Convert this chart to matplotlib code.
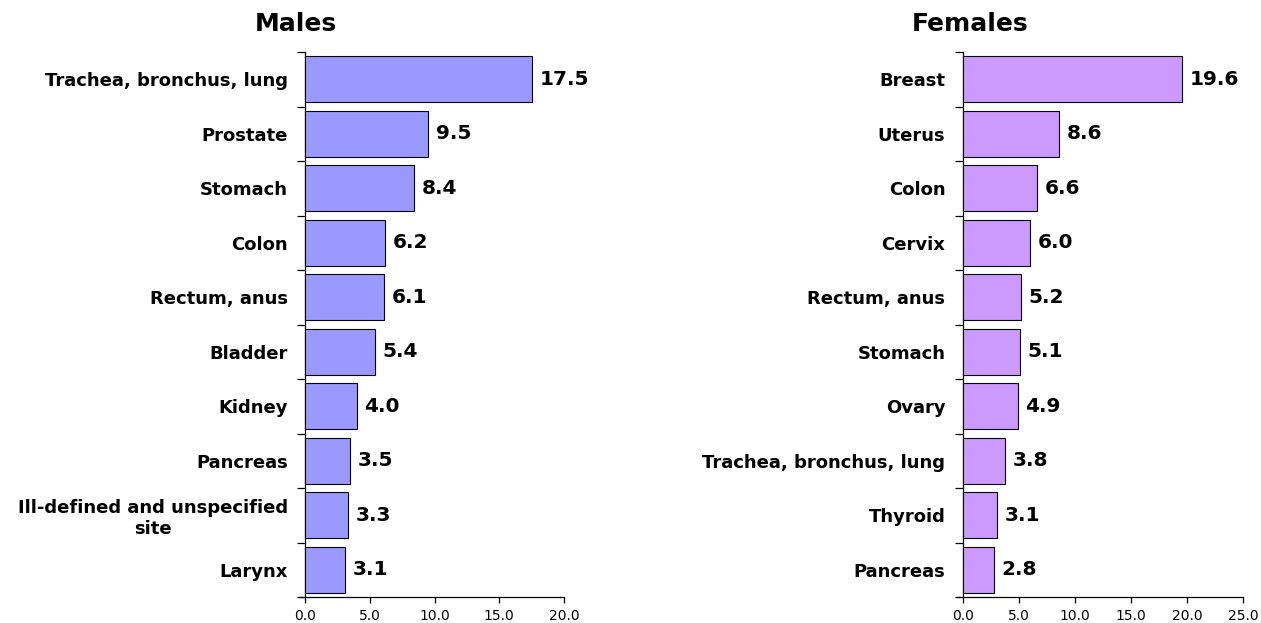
import matplotlib
matplotlib.use("Agg")
import matplotlib.pyplot as plt
import numpy as np

plt.rcParams['font.family'] = ['DejaVu Sans']

male_sites = ["Trachea, bronchus, lung", "Prostate", "Stomach", "Colon", "Rectum, anus",
              "Bladder", "Kidney", "Pancreas", "Ill-defined and unspecified\nsite", "Larynx"]
male_values = [17.5, 9.5, 8.4, 6.2, 6.1, 5.4, 4.0, 3.5, 3.3, 3.1]

female_sites = ["Breast", "Uterus", "Colon", "Cervix", "Rectum, anus", "Stomach", "Ovary",
                "Trachea, bronchus, lung", "Thyroid", "Pancreas"]
female_values = [19.6, 8.6, 6.6, 6.0, 5.2, 5.1, 4.9, 3.8, 3.1, 2.8]

male_ticks = [0, 5, 10, 15, 20]
female_ticks = [0, 5, 10, 15, 20, 25]

W, H = 1261, 623
fig = plt.figure(figsize=(W / 100, H / 100), dpi=100)


def panel(x0px, x1px, xmax, pad_units, sites, values, ticks, color, title, title_x):
    top, bottom = 52, 597
    px_per_unit = (x1px - x0px) / xmax
    left_px = x0px - pad_units * px_per_unit
    ax = fig.add_axes([left_px / W, 1 - bottom / H, (x1px - left_px) / W, (bottom - top) / H])
    n = len(values)
    y = np.arange(n)
    ax.barh(y, values, height=0.84, color=color, edgecolor='black', linewidth=0.8, zorder=3)
    ax.set_ylim(n - 0.5, -0.5)
    ax.set_xlim(-pad_units, xmax)
    for s in ['top', 'right']:
        ax.spines[s].set_visible(False)
    ax.spines['left'].set_position(('data', 0))
    for s in ['left', 'bottom']:
        ax.spines[s].set_linewidth(0.9)
    ax.set_yticks(np.arange(n + 1) - 0.5)
    ax.set_yticklabels([])
    ax.set_yticks(y, minor=True)
    ax.set_yticklabels(sites, minor=True, fontsize=13, fontweight='bold', multialignment='center')
    ax.tick_params(axis='y', which='major', length=6, width=0.9, direction='out')
    ax.tick_params(axis='y', which='minor', length=0, pad=12.5)
    ax.set_xticks(ticks)
    ax.set_xticklabels([f"{t:.1f}" for t in ticks], fontsize=10)
    ax.tick_params(axis='x', length=4, width=0.9, direction='out', pad=5)
    for yi, v in zip(y, values):
        ax.annotate(f"{v:.1f}", (v, yi), xytext=(5.5, 0), textcoords='offset points',
                    va='center', ha='left', fontsize=14.5, fontweight='bold')
    fig.text(title_x / W, 1 - 24 / H, title, ha='center', va='center', fontsize=18, fontweight='bold')
    return ax


panel(305, 564, 20, 0.54, male_sites, male_values, male_ticks, '#9999FF', 'Males', 296)
panel(962.7, 1243, 25, 0.62, female_sites, female_values, female_ticks, '#CC99FF', 'Females', 970)

fig.savefig('out.png', dpi=100)
